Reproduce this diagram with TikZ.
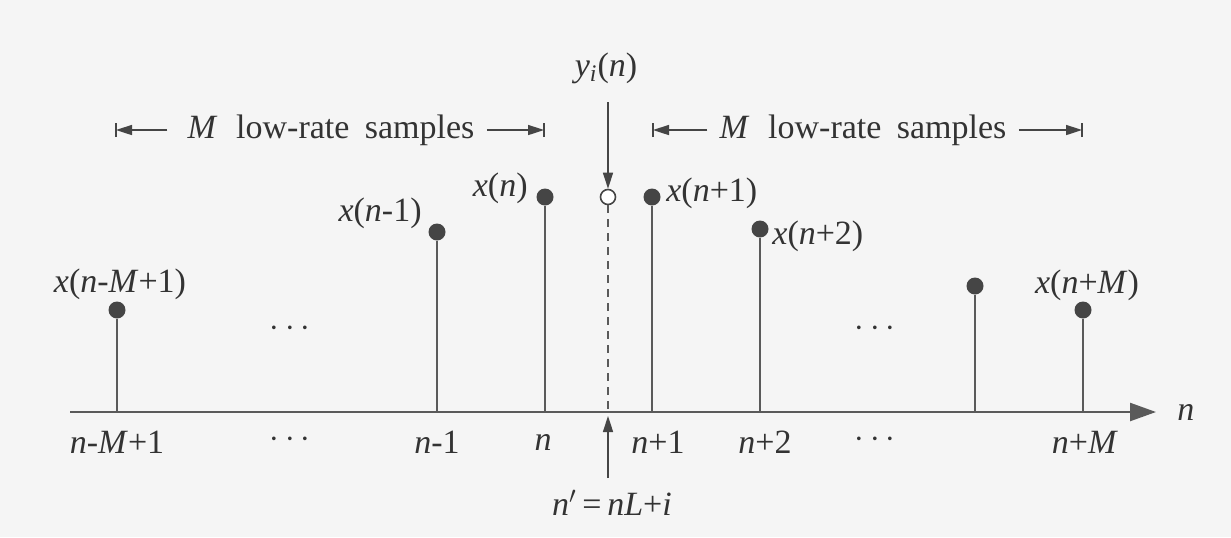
\documentclass[tikz,border=0pt]{standalone}
\usepackage{fontspec}
\setmainfont{Liberation Serif}
\usetikzlibrary{arrows.meta}
\definecolor{bgc}{HTML}{F5F5F5}
\definecolor{ln}{HTML}{5A5A5A}
\definecolor{dk}{HTML}{454545}
\definecolor{tx}{HTML}{333333}
\begin{document}
\begin{tikzpicture}[x=0.5pt,y=-0.5pt,
  lbl/.style={font=\fontsize{17}{20}\selectfont, text=tx, inner sep=1pt},
  dotnode/.style={circle, fill=dk, minimum size=8.5pt, inner sep=0pt},
  odot/.style={circle, draw=dk, fill=white, line width=0.8pt, minimum size=7.5pt, inner sep=0pt},
  stem/.style={draw=ln, line width=0.8pt},
  dstem/.style={draw=ln, line width=0.8pt, dash pattern=on 4pt off 3pt},
  axisline/.style={draw=ln, line width=1.2pt, -{Triangle[length=13pt,width=9pt]}},
  ptr/.style={draw=dk, line width=0.8pt, -{Triangle[length=8pt,width=5pt]}},
  span/.style={draw=dk, line width=0.8pt, -{Triangle[length=8pt,width=5pt]}},
  barline/.style={draw=dk, line width=1pt}]
\fill[bgc] (0,0) rectangle (1231,537);
\useasboundingbox (0,0) rectangle (1231,537);

% axis
\coordinate (ax0) at (70,412);
\coordinate (ax1) at (1156,412);
\draw[axisline] (ax0) -- (ax1);
\node[lbl, anchor=west] (nax) at (1175,412) {\textit{n}};

% bases
\foreach \i/\x in {1/117,2/437,3/545,4/608,5/652,6/760,7/975,8/1083}
  \coordinate (b\i) at (\x,412);

% samples
\node[dotnode] (d1) at (117,310) {};
\node[dotnode] (d2) at (437,232) {};
\node[dotnode] (d3) at (545,197) {};
\node[odot]    (d4) at (608,197) {};
\node[dotnode] (d5) at (652,197) {};
\node[dotnode] (d6) at (760,229) {};
\node[dotnode] (d7) at (975,286) {};
\node[dotnode] (d8) at (1083,310) {};
\foreach \i in {1,2,3,5,6,7,8} \draw[stem] (d\i) -- (b\i);
\draw[dstem] (d4.south) -- (b4);

% sample labels
\node[lbl] (l1) at (120,284) {\textit{x}(\textit{n}-\textit{M}+1)};
\node[lbl, anchor=east] (l2) at (424,213) {\textit{x}(\textit{n}-1)};
\node[lbl, anchor=east] (l3) at (530,188) {\textit{x}(\textit{n})};
\node[lbl, anchor=west] (l5) at (664,193) {\textit{x}(\textit{n}+1)};
\node[lbl, anchor=west] (l6) at (770,236) {\textit{x}(\textit{n}+2)};
\node[lbl] (l8) at (1087,285) {\textit{x}(\textit{n}+\textit{M})};

% ellipses
\node[lbl] (e1) at (290,329) {$\cdots$};
\node[lbl] (e2) at (875,329) {$\cdots$};
\node[lbl] (e3) at (290,440) {$\cdots$};
\node[lbl] (e4) at (875,440) {$\cdots$};

% tick labels
\node[lbl] (t1) at (117,442) {\textit{n}-\textit{M}+1};
\node[lbl] (t2) at (437,442) {\textit{n}-1};
\node[lbl] (t3) at (543,442) {\textit{n}};
\node[lbl] (t5) at (658,442) {\textit{n}+1};
\node[lbl] (t6) at (765,442) {\textit{n}+2};
\node[lbl] (t8) at (1085,442) {\textit{n}+\textit{M}};

% y_i(n) pointer
\node[lbl] (yi) at (606,68) {\textit{y}\textsubscript{\textit{i}}(\textit{n})};
\coordinate (yis) at (608,102);
\draw[ptr] (yis) -- (d4.north);

% n' pointer
\node[lbl] (np) at (612,503) {\textit{n}$'$\,=\,\textit{nL}+\textit{i}};
\coordinate (nps) at (608,478);
\coordinate (npe) at (608,416);
\draw[ptr] (nps) -- (npe);

% span labels
\node[lbl] (s1) at (331,130) {\textit{M}\hspace{0.55em}low-rate\hspace{0.45em}samples};
\node[lbl] (s2) at (863,130) {\textit{M}\hspace{0.55em}low-rate\hspace{0.45em}samples};
\coordinate (s1l) at (116,130);
\coordinate (s1r) at (544,130);
\coordinate (s2l) at (653,130);
\coordinate (s2r) at (1082,130);
\draw[span, shorten <=9pt] (s1.west) -- (s1l);
\draw[span, shorten <=5pt] (s1.east) -- (s1r);
\draw[span, shorten <=5pt] (s2.west) -- (s2l);
\draw[span, shorten <=5pt] (s2.east) -- (s2r);
\foreach \c in {s1l,s1r,s2l,s2r}
  \draw[barline] ([yshift=-3.5pt]\c) -- ([yshift=3.5pt]\c);
\end{tikzpicture}
\end{document}
